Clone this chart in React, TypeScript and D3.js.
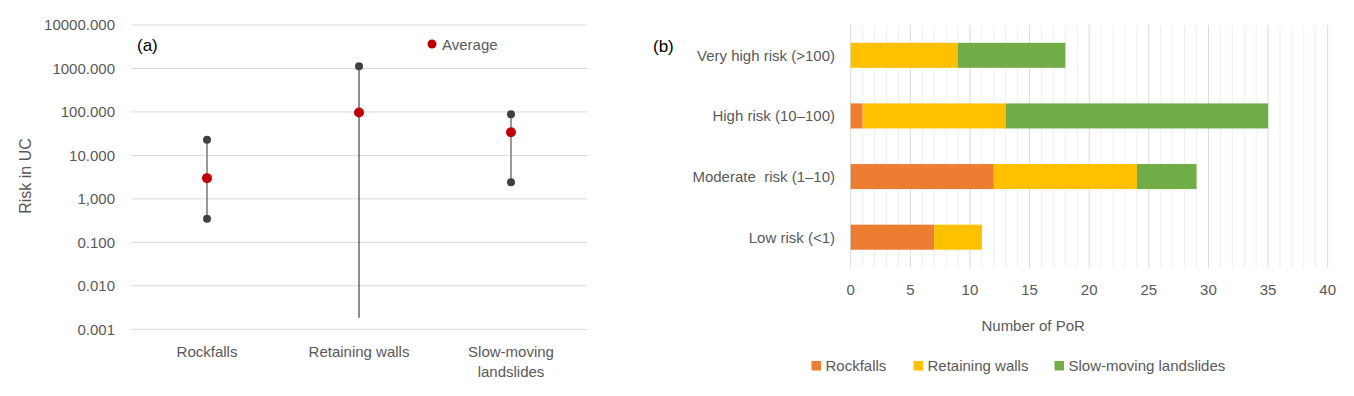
import React from "react";
import * as d3 from "d3";

// (a) risk per category, log scale
const riskCategories = ["Rockfalls", "Retaining walls", "Slow-moving landslides"];
const riskCategoryLines = [["Rockfalls"], ["Retaining walls"], ["Slow-moving", "landslides"]];
const riskMax = [23, 1130, 88.5];
const riskAvg = [3.0, 97, 34];
const riskMin = [0.35, 0.00185, 2.41];
const riskMinShown = [true, false, true];
const riskTicks = [0.001, 0.01, 0.1, 1, 10, 100, 1000, 10000];
const riskTickLabels = ["0.001", "0.010", "0.100", "1,000", "10.000", "100.000", "1000.000", "10000.000"];

// (b) number of PoR per risk level
const levels = ["Very high risk (>100)", "High risk (10\u2013100)", "Moderate  risk (1\u201310)", "Low risk (<1)"];
const rockfalls = [0, 1, 12, 7];
const retainingWalls = [9, 12, 12, 4];
const slowMoving = [9, 22, 5, 0];
const seriesNames = ["Rockfalls", "Retaining walls", "Slow-moving landslides"];
const seriesColors = ["#ED7D31", "#FFC000", "#70AD47"];
const porTicks = [0, 5, 10, 15, 20, 25, 30, 35, 40];

const font = "'Liberation Sans', Arial, sans-serif";
const grey = "#595959";

const RiskPanel = () => {
  const x = d3.scaleBand<string>(riskCategories, [131, 587]);
  const y = d3.scaleLog([0.001, 10000], [329.3, 25]);
  const cx = (c: string) => (x(c) as number) + x.bandwidth() / 2;

  return (
    <g fontFamily={font}>
      {riskTicks.map((t, i) => (
        <g key={t}>
          <line x1={131} x2={587} y1={y(t)} y2={y(t)} stroke="#d9d9d9" strokeWidth={1} />
          <text x={115} y={y(t)} dy="0.36em" textAnchor="end" fontSize={15} fill={grey}>
            {riskTickLabels[i]}
          </text>
        </g>
      ))}
      <text transform={`translate(31,176) rotate(-90)`} textAnchor="middle" fontSize={16} fill={grey}>
        Risk in UC
      </text>
      <text x={137} y={51} fontSize={17} fill="#000">(a)</text>
      {riskCategories.map((c, i) => (
        <g key={c}>
          <line
            x1={cx(c)} x2={cx(c)} y1={y(riskMin[i])} y2={y(riskMax[i])}
            stroke={riskMinShown[i] ? "#808080" : "#404040"}
            strokeWidth={riskMinShown[i] ? 1.6 : 1.2}
          />
          <circle cx={cx(c)} cy={y(riskMax[i])} r={4} fill="#404040" />
          {riskMinShown[i] && <circle cx={cx(c)} cy={y(riskMin[i])} r={4} fill="#404040" />}
          <circle cx={cx(c)} cy={y(riskAvg[i])} r={5} fill="#C00000" />
          {riskCategoryLines[i].map((l, j) => (
            <text key={l} x={cx(c)} y={357 + j * 20} textAnchor="middle" fontSize={15} fill={grey}>
              {l}
            </text>
          ))}
        </g>
      ))}
      <circle cx={432} cy={44} r={4.5} fill="#C00000" />
      <text x={442} y={49.5} fontSize={15} fill={grey}>Average</text>
    </g>
  );
};

const PorPanel = () => {
  const x = d3.scaleLinear([0, 40], [850.7, 1327.7]);
  const y = d3.scaleBand<string>(levels, [25, 267.5]).paddingInner(0.587).paddingOuter(0.2935);
  const rows = levels.map((l, i) => ({
    level: l,
    [seriesNames[0]]: rockfalls[i],
    [seriesNames[1]]: retainingWalls[i],
    [seriesNames[2]]: slowMoving[i],
  }));
  const stacked = d3.stack<any>().keys(seriesNames)(rows);
  const minor = d3.range(0, 41, 1).filter((v) => v % 5 !== 0);

  return (
    <g fontFamily={font}>
      {minor.map((v) => (
        <line key={"m" + v} x1={x(v)} x2={x(v)} y1={25} y2={267.5} stroke="#efefef" strokeWidth={1} />
      ))}
      {porTicks.map((v) => (
        <g key={v}>
          <line x1={x(v)} x2={x(v)} y1={25} y2={267.5} stroke="#d9d9d9" strokeWidth={1} />
          <text x={x(v)} y={295} textAnchor="middle" fontSize={15} fill={grey}>{v}</text>
        </g>
      ))}
      {stacked.map((s, si) => (
        <g key={s.key} fill={seriesColors[si]}>
          {s.map((d, di) =>
            d[1] - d[0] > 0 ? (
              <rect
                key={di}
                x={x(d[0])}
                y={y(d.data.level)}
                width={x(d[1]) - x(d[0])}
                height={y.bandwidth()}
              />
            ) : null
          )}
        </g>
      ))}
      {levels.map((l) => (
        <text
          key={l}
          x={835}
          y={(y(l) as number) + y.bandwidth() / 2}
          dy="0.36em"
          textAnchor="end"
          fontSize={15}
          fill={grey}
          style={{ whiteSpace: "pre" }}
        >
          {l}
        </text>
      ))}
      <text x={653} y={52} fontSize={17} fill="#000">(b)</text>
      <text x={x(15.3)} y={331} textAnchor="middle" fontSize={15} fill={grey}>Number of PoR</text>
      {[
        { sx: 811.5, tx: 825.5 },
        { sx: 913.5, tx: 927.5 },
        { sx: 1054.5, tx: 1068.5 },
      ].map((p, i) => (
        <g key={seriesNames[i]}>
          <rect x={p.sx} y={361} width={9.5} height={9.5} fill={seriesColors[i]} />
          <text x={p.tx} y={371} fontSize={15} fill={grey}>{seriesNames[i]}</text>
        </g>
      ))}
    </g>
  );
};

export default function App() {
  return (
    <svg
      width={1354}
      height={396}
      style={{ position: "absolute", left: 0, top: 0, background: "#fff" }}
    >
      <rect width={1354} height={396} fill="#fff" />
      <RiskPanel />
      <PorPanel />
    </svg>
  );
}
